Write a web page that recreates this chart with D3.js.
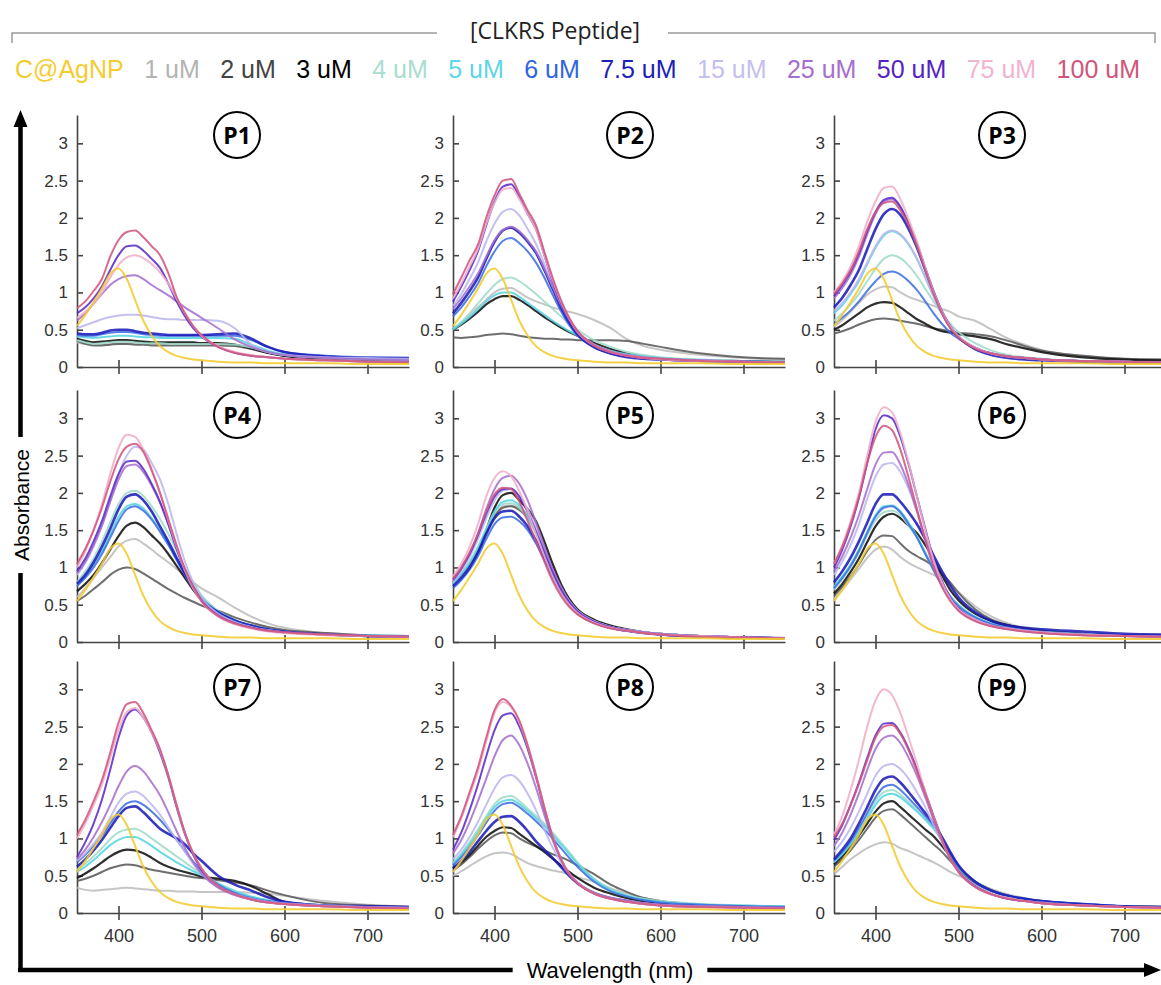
<!DOCTYPE html>
<html>
<head>
<meta charset="utf-8">
<script src="https://cdn.jsdelivr.net/npm/d3@7"></script>
<style>
  body { margin: 0; background: #fff; }
  svg { display: block; }
</style>
</head>
<body>
<div id="chart"></div>
<script>
// wavelength grid (nm) shared by every spectrum
const wavelengths = [350, 360, 370, 380, 390, 400, 410, 420, 430, 440, 450, 460, 470, 480, 490, 500, 520, 540, 560, 580, 600, 650, 700, 750];

const seriesNames = ['C@AgNP', '1 uM', '2 uM', '3 uM', '4 uM', '5 uM', '6 uM', '7.5 uM', '15 uM', '25 uM', '50 uM', '75 uM', '100 uM'];
const lineColors = ['#f3cb2c', '#bdbdbd', '#5a5a5a', '#111111', '#9fdccb', '#57d3e3', '#3d6fe3', '#1c1cb8', '#bcb7ee', '#a66fcf', '#5b2ec7', '#f0aecb', '#d2567d'];
const legendColors = ['#f5cc2f', '#b3b3b3', '#444444', '#000000', '#a8ddcf', '#5dd6e6', '#2f66e0', '#1e1eb8', '#c3bff0', '#a66fcf', '#5523c3', '#f2b3d0', '#d0557a'];
const panelNames = ['P1', 'P2', 'P3', 'P4', 'P5', 'P6', 'P7', 'P8', 'P9'];

// bare silver nanoparticle spectrum, same in every panel
const agnp = [0.55, 0.70, 0.87, 1.05, 1.25, 1.32, 1.18, 0.90, 0.62, 0.42, 0.28, 0.20, 0.15, 0.12, 0.10, 0.09, 0.07, 0.06, 0.06, 0.05, 0.05, 0.05, 0.04, 0.04];

// each panel: 1, 2, 3, 4, 5, 6, 7.5, 15, 25, 50, 75, 100 uM
const p1 = [
  [0.33, 0.31, 0.30, 0.30, 0.31, 0.32, 0.32, 0.32, 0.31, 0.31, 0.31, 0.31, 0.31, 0.31, 0.31, 0.31, 0.30, 0.29, 0.25, 0.20, 0.16, 0.12, 0.10, 0.09],
  [0.35, 0.31, 0.29, 0.29, 0.30, 0.31, 0.31, 0.30, 0.30, 0.29, 0.29, 0.29, 0.29, 0.29, 0.29, 0.29, 0.29, 0.28, 0.24, 0.19, 0.15, 0.11, 0.09, 0.08],
  [0.38, 0.35, 0.33, 0.34, 0.35, 0.36, 0.36, 0.35, 0.34, 0.33, 0.33, 0.33, 0.33, 0.33, 0.33, 0.32, 0.32, 0.30, 0.25, 0.19, 0.15, 0.11, 0.09, 0.08],
  [0.36, 0.33, 0.31, 0.32, 0.33, 0.34, 0.34, 0.33, 0.32, 0.32, 0.32, 0.31, 0.31, 0.31, 0.31, 0.31, 0.31, 0.30, 0.26, 0.20, 0.16, 0.12, 0.10, 0.09],
  [0.41, 0.40, 0.39, 0.40, 0.41, 0.42, 0.42, 0.41, 0.40, 0.40, 0.39, 0.39, 0.39, 0.39, 0.39, 0.39, 0.39, 0.38, 0.30, 0.22, 0.17, 0.13, 0.11, 0.10],
  [0.43, 0.42, 0.42, 0.44, 0.46, 0.47, 0.47, 0.46, 0.44, 0.43, 0.42, 0.42, 0.42, 0.42, 0.42, 0.42, 0.42, 0.42, 0.36, 0.27, 0.20, 0.15, 0.13, 0.12],
  [0.45, 0.44, 0.44, 0.46, 0.49, 0.50, 0.50, 0.48, 0.46, 0.45, 0.44, 0.43, 0.43, 0.43, 0.43, 0.43, 0.44, 0.45, 0.38, 0.27, 0.20, 0.14, 0.12, 0.12],
  [0.52, 0.56, 0.60, 0.64, 0.67, 0.69, 0.70, 0.70, 0.69, 0.67, 0.65, 0.64, 0.64, 0.63, 0.63, 0.63, 0.62, 0.52, 0.30, 0.20, 0.16, 0.13, 0.12, 0.11],
  [0.62, 0.72, 0.85, 0.98, 1.10, 1.18, 1.22, 1.23, 1.18, 1.10, 1.03, 0.96, 0.88, 0.80, 0.73, 0.66, 0.52, 0.37, 0.27, 0.20, 0.16, 0.12, 0.10, 0.09],
  [0.72, 0.80, 0.92, 1.08, 1.30, 1.50, 1.62, 1.63, 1.56, 1.45, 1.33, 1.12, 0.88, 0.68, 0.52, 0.41, 0.27, 0.19, 0.15, 0.13, 0.11, 0.09, 0.07, 0.06],
  [0.66, 0.74, 0.85, 1.00, 1.20, 1.37, 1.47, 1.50, 1.46, 1.38, 1.27, 1.12, 0.92, 0.72, 0.55, 0.42, 0.28, 0.20, 0.16, 0.13, 0.11, 0.09, 0.07, 0.06],
  [0.79, 0.88, 1.02, 1.18, 1.48, 1.70, 1.81, 1.83, 1.74, 1.62, 1.50, 1.26, 0.94, 0.72, 0.55, 0.43, 0.27, 0.19, 0.15, 0.13, 0.11, 0.09, 0.07, 0.06]
];
const p2 = [
  [0.50, 0.60, 0.70, 0.80, 0.90, 1.00, 1.05, 1.06, 1.00, 0.93, 0.88, 0.84, 0.80, 0.77, 0.74, 0.71, 0.63, 0.52, 0.37, 0.28, 0.23, 0.16, 0.12, 0.10],
  [0.40, 0.39, 0.40, 0.41, 0.43, 0.44, 0.45, 0.44, 0.42, 0.40, 0.39, 0.38, 0.38, 0.37, 0.37, 0.36, 0.36, 0.36, 0.35, 0.31, 0.27, 0.18, 0.13, 0.11],
  [0.50, 0.57, 0.65, 0.74, 0.84, 0.91, 0.95, 0.95, 0.90, 0.83, 0.75, 0.67, 0.60, 0.53, 0.47, 0.42, 0.32, 0.24, 0.18, 0.14, 0.12, 0.09, 0.08, 0.07],
  [0.52, 0.60, 0.72, 0.85, 0.98, 1.10, 1.18, 1.20, 1.15, 1.07, 0.98, 0.88, 0.78, 0.68, 0.58, 0.50, 0.36, 0.27, 0.20, 0.16, 0.13, 0.10, 0.08, 0.07],
  [0.50, 0.58, 0.67, 0.77, 0.88, 0.96, 1.00, 1.00, 0.94, 0.86, 0.78, 0.70, 0.62, 0.55, 0.48, 0.42, 0.30, 0.22, 0.17, 0.14, 0.12, 0.09, 0.08, 0.07],
  [0.68, 0.80, 0.95, 1.12, 1.35, 1.55, 1.69, 1.73, 1.66, 1.55, 1.40, 1.20, 0.97, 0.75, 0.56, 0.42, 0.26, 0.18, 0.14, 0.12, 0.10, 0.08, 0.07, 0.06],
  [0.72, 0.86, 1.02, 1.20, 1.45, 1.68, 1.83, 1.87, 1.80, 1.68, 1.53, 1.30, 1.05, 0.80, 0.60, 0.44, 0.27, 0.18, 0.13, 0.11, 0.10, 0.08, 0.07, 0.06],
  [0.82, 0.98, 1.18, 1.40, 1.68, 1.92, 2.08, 2.12, 2.03, 1.85, 1.65, 1.38, 1.10, 0.85, 0.64, 0.48, 0.30, 0.21, 0.16, 0.13, 0.11, 0.09, 0.07, 0.06],
  [0.78, 0.92, 1.08, 1.25, 1.48, 1.70, 1.84, 1.88, 1.82, 1.70, 1.55, 1.32, 1.08, 0.84, 0.64, 0.48, 0.30, 0.21, 0.16, 0.13, 0.11, 0.09, 0.07, 0.06],
  [0.88, 1.08, 1.30, 1.55, 1.90, 2.22, 2.42, 2.45, 2.28, 2.05, 1.85, 1.50, 1.15, 0.86, 0.63, 0.46, 0.28, 0.19, 0.14, 0.12, 0.10, 0.08, 0.07, 0.06],
  [0.92, 1.12, 1.35, 1.58, 1.92, 2.20, 2.38, 2.40, 2.25, 2.05, 1.85, 1.50, 1.17, 0.88, 0.65, 0.47, 0.29, 0.20, 0.15, 0.12, 0.10, 0.08, 0.07, 0.06],
  [0.98, 1.20, 1.43, 1.64, 2.00, 2.30, 2.50, 2.52, 2.32, 2.10, 1.90, 1.55, 1.20, 0.90, 0.66, 0.48, 0.29, 0.20, 0.15, 0.12, 0.11, 0.08, 0.07, 0.06]
];
const p3 = [
  [0.54, 0.63, 0.74, 0.86, 0.97, 1.04, 1.08, 1.07, 1.00, 0.94, 0.90, 0.86, 0.82, 0.78, 0.74, 0.68, 0.62, 0.50, 0.38, 0.30, 0.23, 0.15, 0.11, 0.10],
  [0.45, 0.48, 0.52, 0.57, 0.61, 0.64, 0.65, 0.64, 0.62, 0.60, 0.58, 0.55, 0.52, 0.50, 0.48, 0.46, 0.44, 0.41, 0.35, 0.28, 0.22, 0.15, 0.11, 0.10],
  [0.50, 0.56, 0.64, 0.72, 0.80, 0.85, 0.87, 0.86, 0.80, 0.72, 0.64, 0.58, 0.52, 0.48, 0.46, 0.44, 0.41, 0.37, 0.30, 0.25, 0.20, 0.13, 0.10, 0.09],
  [0.62, 0.72, 0.84, 0.98, 1.15, 1.32, 1.45, 1.50, 1.46, 1.36, 1.22, 1.05, 0.88, 0.72, 0.58, 0.47, 0.32, 0.22, 0.16, 0.13, 0.11, 0.08, 0.07, 0.06],
  [0.72, 0.83, 0.98, 1.15, 1.38, 1.60, 1.76, 1.82, 1.77, 1.64, 1.45, 1.20, 0.95, 0.72, 0.54, 0.41, 0.26, 0.18, 0.14, 0.12, 0.10, 0.08, 0.07, 0.06],
  [0.58, 0.66, 0.76, 0.88, 1.02, 1.15, 1.25, 1.28, 1.24, 1.15, 1.03, 0.88, 0.72, 0.58, 0.46, 0.38, 0.26, 0.18, 0.14, 0.12, 0.10, 0.08, 0.07, 0.06],
  [0.80, 0.93, 1.10, 1.30, 1.58, 1.85, 2.05, 2.12, 2.04, 1.85, 1.60, 1.30, 1.00, 0.74, 0.54, 0.40, 0.24, 0.16, 0.12, 0.10, 0.09, 0.07, 0.06, 0.06],
  [0.75, 0.86, 1.00, 1.18, 1.40, 1.62, 1.78, 1.83, 1.78, 1.65, 1.45, 1.20, 0.95, 0.72, 0.54, 0.41, 0.26, 0.18, 0.14, 0.12, 0.10, 0.08, 0.07, 0.06],
  [0.92, 1.06, 1.24, 1.48, 1.78, 2.05, 2.22, 2.25, 2.14, 1.92, 1.66, 1.33, 1.02, 0.75, 0.55, 0.41, 0.26, 0.18, 0.14, 0.12, 0.10, 0.08, 0.07, 0.06],
  [0.95, 1.10, 1.28, 1.52, 1.82, 2.08, 2.24, 2.27, 2.15, 1.92, 1.65, 1.32, 1.00, 0.73, 0.53, 0.40, 0.25, 0.18, 0.14, 0.12, 0.10, 0.08, 0.07, 0.06],
  [1.00, 1.15, 1.35, 1.62, 1.95, 2.22, 2.40, 2.42, 2.25, 1.98, 1.68, 1.33, 1.00, 0.74, 0.54, 0.41, 0.26, 0.18, 0.14, 0.12, 0.10, 0.08, 0.07, 0.06],
  [0.98, 1.12, 1.30, 1.55, 1.85, 2.08, 2.20, 2.22, 2.10, 1.90, 1.62, 1.30, 0.98, 0.72, 0.52, 0.40, 0.25, 0.18, 0.14, 0.12, 0.10, 0.08, 0.07, 0.06]
];
const p4 = [
  [0.60, 0.72, 0.86, 1.00, 1.14, 1.28, 1.36, 1.38, 1.32, 1.24, 1.15, 1.07, 0.98, 0.89, 0.80, 0.72, 0.60, 0.46, 0.34, 0.25, 0.19, 0.12, 0.09, 0.08],
  [0.55, 0.62, 0.71, 0.80, 0.90, 0.97, 1.00, 0.98, 0.92, 0.85, 0.78, 0.71, 0.65, 0.59, 0.54, 0.49, 0.42, 0.33, 0.26, 0.20, 0.16, 0.12, 0.09, 0.08],
  [0.68, 0.78, 0.90, 1.06, 1.24, 1.42, 1.56, 1.60, 1.54, 1.43, 1.32, 1.18, 1.02, 0.86, 0.70, 0.56, 0.38, 0.28, 0.22, 0.17, 0.14, 0.10, 0.08, 0.07],
  [0.80, 0.95, 1.12, 1.35, 1.60, 1.85, 2.00, 2.03, 1.96, 1.82, 1.65, 1.45, 1.22, 1.00, 0.80, 0.63, 0.42, 0.30, 0.22, 0.17, 0.14, 0.10, 0.09, 0.08],
  [0.76, 0.88, 1.04, 1.22, 1.45, 1.68, 1.82, 1.85, 1.79, 1.66, 1.50, 1.32, 1.12, 0.93, 0.75, 0.60, 0.41, 0.29, 0.22, 0.17, 0.14, 0.10, 0.09, 0.08],
  [0.75, 0.86, 1.00, 1.18, 1.40, 1.62, 1.78, 1.82, 1.76, 1.64, 1.48, 1.30, 1.10, 0.90, 0.72, 0.57, 0.39, 0.28, 0.21, 0.16, 0.13, 0.10, 0.08, 0.07],
  [0.78, 0.90, 1.07, 1.28, 1.52, 1.78, 1.95, 1.98, 1.90, 1.75, 1.55, 1.35, 1.13, 0.92, 0.74, 0.58, 0.40, 0.29, 0.22, 0.17, 0.14, 0.10, 0.08, 0.07],
  [0.90, 1.06, 1.28, 1.56, 1.90, 2.25, 2.50, 2.62, 2.58, 2.40, 2.18, 1.85, 1.45, 1.08, 0.80, 0.60, 0.38, 0.27, 0.20, 0.16, 0.13, 0.10, 0.08, 0.07],
  [0.92, 1.08, 1.30, 1.56, 1.88, 2.18, 2.36, 2.38, 2.28, 2.10, 1.87, 1.58, 1.26, 0.97, 0.74, 0.56, 0.36, 0.25, 0.19, 0.15, 0.13, 0.10, 0.08, 0.07],
  [0.95, 1.12, 1.35, 1.62, 1.95, 2.25, 2.42, 2.43, 2.32, 2.12, 1.88, 1.58, 1.25, 0.96, 0.73, 0.55, 0.35, 0.25, 0.19, 0.15, 0.13, 0.10, 0.08, 0.07],
  [1.00, 1.22, 1.50, 1.85, 2.25, 2.60, 2.78, 2.75, 2.58, 2.32, 2.00, 1.63, 1.28, 0.96, 0.72, 0.54, 0.34, 0.24, 0.18, 0.14, 0.12, 0.09, 0.08, 0.07],
  [1.05, 1.25, 1.50, 1.80, 2.15, 2.45, 2.62, 2.66, 2.55, 2.30, 2.00, 1.65, 1.30, 0.98, 0.74, 0.55, 0.35, 0.25, 0.19, 0.15, 0.13, 0.10, 0.08, 0.07]
];
const p5 = [
  [0.80, 0.92, 1.06, 1.24, 1.48, 1.70, 1.82, 1.83, 1.80, 1.70, 1.52, 1.28, 1.00, 0.76, 0.57, 0.43, 0.29, 0.21, 0.16, 0.13, 0.11, 0.08, 0.06, 0.05],
  [0.78, 0.90, 1.04, 1.22, 1.46, 1.68, 1.80, 1.82, 1.77, 1.66, 1.48, 1.24, 0.98, 0.74, 0.56, 0.42, 0.28, 0.21, 0.16, 0.13, 0.11, 0.08, 0.06, 0.05],
  [0.80, 0.90, 1.04, 1.22, 1.50, 1.80, 1.97, 2.00, 1.90, 1.78, 1.62, 1.35, 1.05, 0.78, 0.58, 0.44, 0.30, 0.22, 0.17, 0.13, 0.11, 0.08, 0.06, 0.05],
  [0.79, 0.92, 1.08, 1.28, 1.52, 1.74, 1.85, 1.86, 1.80, 1.66, 1.45, 1.20, 0.94, 0.72, 0.55, 0.42, 0.28, 0.20, 0.16, 0.13, 0.11, 0.08, 0.06, 0.05],
  [0.78, 0.90, 1.05, 1.25, 1.50, 1.75, 1.88, 1.90, 1.83, 1.68, 1.46, 1.20, 0.94, 0.71, 0.54, 0.42, 0.28, 0.20, 0.16, 0.13, 0.11, 0.08, 0.06, 0.05],
  [0.72, 0.83, 0.97, 1.15, 1.38, 1.58, 1.67, 1.68, 1.62, 1.50, 1.32, 1.10, 0.87, 0.66, 0.50, 0.39, 0.26, 0.19, 0.15, 0.12, 0.10, 0.07, 0.06, 0.05],
  [0.75, 0.86, 1.00, 1.20, 1.45, 1.66, 1.75, 1.76, 1.68, 1.55, 1.36, 1.12, 0.88, 0.67, 0.50, 0.39, 0.26, 0.19, 0.15, 0.12, 0.10, 0.07, 0.06, 0.05],
  [0.80, 0.95, 1.14, 1.38, 1.66, 1.90, 2.03, 2.05, 1.96, 1.78, 1.53, 1.25, 0.97, 0.73, 0.55, 0.42, 0.28, 0.20, 0.16, 0.13, 0.11, 0.08, 0.06, 0.05],
  [0.82, 0.98, 1.18, 1.45, 1.78, 2.05, 2.20, 2.23, 2.12, 1.90, 1.60, 1.28, 0.98, 0.74, 0.55, 0.42, 0.28, 0.20, 0.16, 0.13, 0.11, 0.08, 0.06, 0.05],
  [0.84, 0.99, 1.18, 1.43, 1.72, 1.95, 2.05, 2.06, 1.95, 1.74, 1.48, 1.20, 0.93, 0.70, 0.53, 0.41, 0.27, 0.20, 0.15, 0.12, 0.10, 0.08, 0.06, 0.05],
  [0.88, 1.05, 1.28, 1.58, 1.95, 2.20, 2.29, 2.22, 2.02, 1.75, 1.45, 1.15, 0.88, 0.66, 0.50, 0.39, 0.26, 0.19, 0.15, 0.12, 0.10, 0.08, 0.06, 0.05],
  [0.85, 1.00, 1.20, 1.45, 1.75, 1.98, 2.07, 2.05, 1.88, 1.62, 1.35, 1.08, 0.82, 0.62, 0.47, 0.37, 0.25, 0.18, 0.15, 0.12, 0.10, 0.07, 0.06, 0.05]
];
const p6 = [
  [0.58, 0.70, 0.84, 0.98, 1.13, 1.24, 1.28, 1.24, 1.14, 1.06, 1.00, 0.95, 0.90, 0.84, 0.77, 0.67, 0.48, 0.34, 0.25, 0.19, 0.16, 0.11, 0.09, 0.08],
  [0.62, 0.74, 0.88, 1.04, 1.22, 1.37, 1.43, 1.42, 1.32, 1.22, 1.15, 1.09, 1.02, 0.92, 0.80, 0.66, 0.44, 0.30, 0.23, 0.18, 0.15, 0.11, 0.09, 0.08],
  [0.65, 0.78, 0.94, 1.12, 1.34, 1.55, 1.68, 1.72, 1.66, 1.56, 1.46, 1.30, 1.12, 0.90, 0.70, 0.56, 0.38, 0.28, 0.22, 0.18, 0.15, 0.11, 0.09, 0.08],
  [0.70, 0.84, 1.00, 1.20, 1.43, 1.63, 1.74, 1.76, 1.70, 1.56, 1.40, 1.18, 0.97, 0.77, 0.61, 0.49, 0.33, 0.24, 0.19, 0.16, 0.13, 0.10, 0.09, 0.08],
  [0.74, 0.88, 1.04, 1.24, 1.48, 1.70, 1.82, 1.83, 1.75, 1.60, 1.42, 1.20, 0.98, 0.78, 0.62, 0.50, 0.34, 0.25, 0.20, 0.16, 0.14, 0.11, 0.09, 0.08],
  [0.72, 0.86, 1.02, 1.22, 1.46, 1.68, 1.80, 1.82, 1.74, 1.58, 1.40, 1.18, 0.96, 0.76, 0.60, 0.48, 0.33, 0.24, 0.19, 0.16, 0.13, 0.10, 0.09, 0.08],
  [0.80, 0.95, 1.13, 1.35, 1.60, 1.85, 1.98, 1.98, 1.88, 1.74, 1.58, 1.38, 1.16, 0.95, 0.76, 0.60, 0.40, 0.28, 0.22, 0.19, 0.17, 0.14, 0.11, 0.10],
  [0.90, 1.08, 1.30, 1.58, 1.92, 2.22, 2.38, 2.40, 2.28, 2.05, 1.75, 1.40, 1.07, 0.80, 0.60, 0.45, 0.30, 0.22, 0.18, 0.15, 0.13, 0.10, 0.08, 0.07],
  [0.95, 1.15, 1.40, 1.70, 2.05, 2.38, 2.54, 2.55, 2.38, 2.10, 1.75, 1.38, 1.04, 0.77, 0.57, 0.43, 0.29, 0.21, 0.17, 0.14, 0.12, 0.09, 0.08, 0.07],
  [1.00, 1.24, 1.55, 1.93, 2.40, 2.85, 3.04, 3.00, 2.75, 2.38, 1.95, 1.52, 1.12, 0.82, 0.60, 0.45, 0.30, 0.22, 0.18, 0.15, 0.13, 0.10, 0.08, 0.07],
  [1.05, 1.30, 1.62, 2.00, 2.50, 2.95, 3.15, 3.08, 2.80, 2.40, 1.95, 1.50, 1.10, 0.80, 0.58, 0.44, 0.30, 0.22, 0.18, 0.15, 0.13, 0.10, 0.08, 0.07],
  [1.05, 1.28, 1.58, 1.95, 2.40, 2.75, 2.90, 2.84, 2.58, 2.20, 1.78, 1.36, 1.00, 0.74, 0.55, 0.42, 0.28, 0.21, 0.17, 0.14, 0.12, 0.09, 0.08, 0.07]
];
const p7 = [
  [0.34, 0.31, 0.30, 0.31, 0.32, 0.33, 0.34, 0.33, 0.32, 0.31, 0.30, 0.30, 0.29, 0.29, 0.29, 0.28, 0.28, 0.28, 0.27, 0.26, 0.23, 0.16, 0.11, 0.09],
  [0.43, 0.46, 0.50, 0.55, 0.60, 0.63, 0.65, 0.64, 0.61, 0.58, 0.56, 0.54, 0.52, 0.50, 0.48, 0.47, 0.44, 0.41, 0.37, 0.30, 0.24, 0.13, 0.10, 0.08],
  [0.47, 0.53, 0.60, 0.68, 0.76, 0.82, 0.85, 0.84, 0.80, 0.74, 0.67, 0.62, 0.58, 0.55, 0.52, 0.49, 0.46, 0.43, 0.36, 0.25, 0.15, 0.10, 0.08, 0.07],
  [0.58, 0.66, 0.76, 0.87, 0.99, 1.08, 1.12, 1.13, 1.08, 1.00, 0.92, 0.84, 0.76, 0.68, 0.60, 0.53, 0.40, 0.30, 0.22, 0.17, 0.14, 0.10, 0.08, 0.07],
  [0.55, 0.62, 0.71, 0.81, 0.91, 0.98, 1.02, 1.02, 0.97, 0.90, 0.82, 0.75, 0.68, 0.62, 0.56, 0.51, 0.39, 0.29, 0.22, 0.17, 0.14, 0.10, 0.08, 0.07],
  [0.68, 0.78, 0.90, 1.04, 1.20, 1.36, 1.47, 1.50, 1.45, 1.36, 1.25, 1.12, 0.98, 0.83, 0.69, 0.56, 0.38, 0.27, 0.20, 0.16, 0.13, 0.10, 0.08, 0.07],
  [0.62, 0.72, 0.84, 0.98, 1.14, 1.30, 1.41, 1.43, 1.35, 1.24, 1.13, 1.06, 1.00, 0.92, 0.80, 0.70, 0.50, 0.38, 0.30, 0.21, 0.15, 0.10, 0.09, 0.08],
  [0.70, 0.80, 0.93, 1.08, 1.28, 1.48, 1.60, 1.63, 1.57, 1.45, 1.32, 1.15, 0.98, 0.82, 0.66, 0.53, 0.35, 0.25, 0.19, 0.15, 0.13, 0.10, 0.08, 0.07],
  [0.72, 0.85, 1.02, 1.22, 1.45, 1.70, 1.90, 1.97, 1.90, 1.75, 1.58, 1.35, 1.10, 0.87, 0.68, 0.53, 0.34, 0.24, 0.18, 0.15, 0.12, 0.09, 0.08, 0.07],
  [0.75, 0.95, 1.20, 1.52, 1.92, 2.35, 2.65, 2.73, 2.62, 2.42, 2.15, 1.82, 1.42, 1.06, 0.78, 0.58, 0.36, 0.25, 0.18, 0.14, 0.12, 0.09, 0.07, 0.06],
  [1.00, 1.20, 1.45, 1.72, 2.08, 2.45, 2.70, 2.75, 2.62, 2.42, 2.18, 1.85, 1.45, 1.08, 0.80, 0.60, 0.36, 0.25, 0.18, 0.14, 0.12, 0.09, 0.07, 0.06],
  [1.05, 1.25, 1.50, 1.78, 2.15, 2.55, 2.80, 2.83, 2.68, 2.45, 2.20, 1.85, 1.45, 1.08, 0.80, 0.60, 0.36, 0.25, 0.18, 0.14, 0.12, 0.09, 0.07, 0.06]
];
const p8 = [
  [0.50, 0.56, 0.63, 0.70, 0.76, 0.80, 0.81, 0.79, 0.73, 0.67, 0.63, 0.60, 0.57, 0.55, 0.52, 0.48, 0.42, 0.33, 0.26, 0.20, 0.16, 0.11, 0.09, 0.08],
  [0.57, 0.65, 0.75, 0.86, 0.96, 1.04, 1.08, 1.07, 1.00, 0.94, 0.89, 0.84, 0.79, 0.75, 0.70, 0.64, 0.52, 0.38, 0.28, 0.20, 0.16, 0.11, 0.09, 0.08],
  [0.60, 0.68, 0.78, 0.90, 1.02, 1.10, 1.15, 1.14, 1.06, 0.98, 0.90, 0.82, 0.73, 0.64, 0.55, 0.47, 0.34, 0.26, 0.20, 0.16, 0.13, 0.10, 0.08, 0.07],
  [0.68, 0.80, 0.95, 1.12, 1.30, 1.46, 1.55, 1.57, 1.50, 1.40, 1.30, 1.20, 1.08, 0.95, 0.82, 0.68, 0.46, 0.32, 0.24, 0.19, 0.16, 0.12, 0.10, 0.09],
  [0.66, 0.78, 0.92, 1.08, 1.26, 1.42, 1.50, 1.52, 1.46, 1.37, 1.27, 1.17, 1.05, 0.92, 0.79, 0.66, 0.45, 0.31, 0.23, 0.18, 0.15, 0.11, 0.10, 0.09],
  [0.64, 0.75, 0.88, 1.04, 1.21, 1.37, 1.46, 1.48, 1.42, 1.33, 1.23, 1.12, 1.00, 0.87, 0.74, 0.62, 0.42, 0.29, 0.22, 0.17, 0.14, 0.11, 0.09, 0.08],
  [0.60, 0.70, 0.82, 0.96, 1.10, 1.22, 1.29, 1.30, 1.22, 1.10, 0.96, 0.85, 0.74, 0.62, 0.50, 0.40, 0.27, 0.20, 0.16, 0.13, 0.11, 0.09, 0.08, 0.07],
  [0.72, 0.85, 1.02, 1.22, 1.45, 1.67, 1.82, 1.85, 1.77, 1.60, 1.38, 1.12, 0.88, 0.68, 0.52, 0.41, 0.27, 0.20, 0.16, 0.13, 0.11, 0.09, 0.08, 0.07],
  [0.80, 0.98, 1.22, 1.50, 1.80, 2.10, 2.32, 2.38, 2.25, 2.00, 1.68, 1.32, 0.98, 0.72, 0.53, 0.41, 0.27, 0.20, 0.16, 0.13, 0.11, 0.09, 0.08, 0.07],
  [0.85, 1.08, 1.38, 1.72, 2.10, 2.45, 2.65, 2.68, 2.50, 2.20, 1.82, 1.40, 1.02, 0.73, 0.53, 0.41, 0.26, 0.19, 0.15, 0.12, 0.10, 0.08, 0.07, 0.06],
  [1.02, 1.27, 1.58, 1.90, 2.30, 2.68, 2.83, 2.76, 2.56, 2.24, 1.85, 1.42, 1.03, 0.73, 0.53, 0.41, 0.26, 0.19, 0.15, 0.12, 0.10, 0.08, 0.07, 0.06],
  [1.05, 1.30, 1.62, 1.95, 2.35, 2.72, 2.87, 2.78, 2.58, 2.25, 1.85, 1.42, 1.02, 0.72, 0.52, 0.40, 0.26, 0.19, 0.15, 0.12, 0.10, 0.08, 0.07, 0.06]
];
const p9 = [
  [0.52, 0.62, 0.72, 0.80, 0.87, 0.92, 0.95, 0.93, 0.87, 0.83, 0.78, 0.73, 0.68, 0.62, 0.55, 0.50, 0.42, 0.32, 0.25, 0.20, 0.16, 0.11, 0.09, 0.08],
  [0.62, 0.72, 0.84, 0.98, 1.13, 1.28, 1.37, 1.39, 1.32, 1.22, 1.12, 1.02, 0.92, 0.82, 0.70, 0.58, 0.40, 0.29, 0.22, 0.18, 0.15, 0.11, 0.09, 0.08],
  [0.65, 0.76, 0.89, 1.04, 1.20, 1.36, 1.47, 1.50, 1.42, 1.32, 1.22, 1.12, 1.03, 0.90, 0.76, 0.62, 0.42, 0.30, 0.23, 0.18, 0.15, 0.11, 0.09, 0.08],
  [0.69, 0.80, 0.94, 1.11, 1.30, 1.50, 1.62, 1.65, 1.59, 1.49, 1.38, 1.27, 1.15, 0.98, 0.80, 0.63, 0.42, 0.30, 0.23, 0.19, 0.16, 0.12, 0.09, 0.08],
  [0.68, 0.79, 0.92, 1.08, 1.26, 1.45, 1.57, 1.60, 1.55, 1.46, 1.36, 1.25, 1.13, 0.97, 0.79, 0.62, 0.42, 0.30, 0.23, 0.19, 0.16, 0.12, 0.09, 0.08],
  [0.70, 0.82, 0.96, 1.14, 1.34, 1.55, 1.69, 1.72, 1.65, 1.54, 1.42, 1.30, 1.17, 1.00, 0.80, 0.63, 0.42, 0.30, 0.23, 0.19, 0.16, 0.12, 0.09, 0.08],
  [0.72, 0.85, 1.00, 1.20, 1.42, 1.65, 1.80, 1.83, 1.75, 1.62, 1.48, 1.34, 1.20, 1.02, 0.82, 0.64, 0.42, 0.30, 0.23, 0.19, 0.16, 0.12, 0.09, 0.08],
  [0.82, 0.96, 1.14, 1.36, 1.60, 1.84, 1.97, 2.00, 1.93, 1.80, 1.62, 1.42, 1.18, 0.95, 0.74, 0.57, 0.37, 0.26, 0.20, 0.16, 0.14, 0.10, 0.08, 0.07],
  [0.90, 1.08, 1.32, 1.60, 1.92, 2.20, 2.35, 2.38, 2.28, 2.08, 1.84, 1.55, 1.25, 0.97, 0.73, 0.55, 0.35, 0.25, 0.19, 0.16, 0.13, 0.10, 0.08, 0.07],
  [0.98, 1.18, 1.45, 1.75, 2.08, 2.38, 2.54, 2.55, 2.42, 2.20, 1.93, 1.62, 1.30, 1.00, 0.75, 0.56, 0.36, 0.25, 0.19, 0.16, 0.13, 0.10, 0.08, 0.07],
  [1.05, 1.30, 1.65, 2.05, 2.50, 2.85, 3.00, 2.92, 2.68, 2.35, 2.00, 1.62, 1.28, 0.98, 0.73, 0.55, 0.35, 0.25, 0.20, 0.16, 0.13, 0.10, 0.08, 0.07],
  [1.02, 1.20, 1.45, 1.73, 2.05, 2.35, 2.50, 2.52, 2.40, 2.18, 1.90, 1.60, 1.27, 0.98, 0.73, 0.55, 0.35, 0.25, 0.19, 0.16, 0.13, 0.10, 0.08, 0.07]
];
const panels = [p1, p2, p3, p4, p5, p6, p7, p8, p9];

const yTicks = [0, 0.5, 1, 1.5, 2, 2.5, 3];
const xTicks = [400, 500, 600, 700];

const totalWidth = 1161;
const totalHeight = 985;

// panel layout
const colLeft = [77, 453, 834];
const rowBase = [367, 642, 913];
const labelX = [237, 630, 1002];
const labelY = [135, 415, 687];
const plotWidth = 332;
const plotHeight = 252;

const sans = "'Liberation Sans', Arial, Helvetica, sans-serif";

const svg = d3.select('#chart')
    .append('svg')
    .attr('width', totalWidth)
    .attr('height', totalHeight);

// legend title with bracket
svg.append('path')
    .attr('d', 'M12,43V33H437M668,33H1155V43')
    .attr('fill', 'none')
    .attr('stroke', '#9a9a9a')
    .attr('stroke-width', 1.5);

svg.append('text')
    .attr('x', 555)
    .attr('y', 39)
    .attr('text-anchor', 'middle')
    .style('font-family', "'Open Sans', sans-serif")
    .style('font-size', '23px')
    .style('fill', '#222')
    .text('[CLKRS Peptide]');

// legend entries, spread across the full width
const legend = svg.append('g');
const legendTexts = legend.selectAll('text')
    .data(seriesNames)
    .enter()
    .append('text')
    .attr('y', 78)
    .style('font-family', sans)
    .style('font-size', '25px')
    .style('fill', (d, i) => legendColors[i])
    .text(d => d);

const widths = [];
legendTexts.each(function () { widths.push(this.getComputedTextLength()); });
const legendStart = 15, legendEnd = 1140;
const gap = (legendEnd - legendStart - d3.sum(widths)) / (widths.length - 1);
let cursor = legendStart;
legendTexts.attr('x', (d, i) => {
    const pos = cursor;
    cursor += widths[i] + gap;
    return pos;
});

// panels
panels.forEach((panel, i) => {
    const col = i % 3;
    const row = Math.floor(i / 3);

    const xScale = d3.scaleLinear()
        .domain([350, 750])
        .range([colLeft[col], colLeft[col] + plotWidth]);

    const yScale = d3.scaleLinear()
        .domain([0, 3.38])
        .range([rowBase[row], rowBase[row] - plotHeight]);

    const g = svg.append('g');

    // vertical axis, ticks point inward
    const yAxis = g.append('g')
        .attr('transform', `translate(${colLeft[col]},0)`)
        .call(d3.axisLeft(yScale)
            .tickValues(yTicks)
            .tickSizeInner(-6)
            .tickSizeOuter(0)
            .tickPadding(9)
            .tickFormat(d => d));

    // horizontal axis, ticks cross the line
    const xAxis = g.append('g')
        .attr('transform', `translate(0,${rowBase[row]})`)
        .call(d3.axisBottom(xScale)
            .tickValues(xTicks)
            .tickSizeInner(7)
            .tickSizeOuter(0)
            .tickPadding(9)
            .tickFormat(row === 2 ? d => d : () => ''));
    xAxis.selectAll('.tick line').attr('y1', -7);

    [yAxis, xAxis].forEach(ax => {
        ax.select('.domain').attr('stroke', '#444').attr('stroke-width', 1.6);
        ax.selectAll('.tick line').attr('stroke', '#444').attr('stroke-width', 1.6);
        ax.selectAll('.tick text')
            .style('font-family', sans)
            .style('fill', '#333');
    });
    yAxis.selectAll('.tick text').style('font-size', '17px');
    xAxis.selectAll('.tick text').style('font-size', '18px');

    const line = d3.line()
        .x((d, k) => xScale(wavelengths[k]))
        .y(d => yScale(d))
        .curve(d3.curveMonotoneX);

    // concentrations first, bare nanoparticles on top
    const series = panel.map((values, k) => ({ values: values, idx: k + 1 }));
    series.push({ values: agnp, idx: 0 });

    g.selectAll('path.spectrum')
        .data(series)
        .enter()
        .append('path')
        .attr('class', 'spectrum')
        .attr('d', d => line(d.values))
        .attr('fill', 'none')
        .attr('stroke', d => lineColors[d.idx])
        .attr('stroke-width', d => (d.idx === 7 ? 2.6 : d.idx === 3 ? 2.2 : 2))
        .attr('stroke-opacity', 0.88)
        .attr('stroke-linejoin', 'round');

    // panel badge
    g.append('circle')
        .attr('cx', labelX[col])
        .attr('cy', labelY[row])
        .attr('r', 23)
        .attr('fill', '#fff')
        .attr('stroke', '#000')
        .attr('stroke-width', 2);

    g.append('text')
        .attr('x', labelX[col])
        .attr('y', labelY[row])
        .attr('text-anchor', 'middle')
        .attr('dominant-baseline', 'central')
        .style('font-family', "'Open Sans', sans-serif")
        .style('font-weight', 700)
        .style('font-size', '23px')
        .text(panelNames[i]);
});

// big axis arrows
svg.append('path')
    .attr('d', 'M20.5,972V124M18,970H1147')
    .attr('fill', 'none')
    .attr('stroke', '#000')
    .attr('stroke-width', 4.5);

svg.append('path')
    .attr('d', 'M20.5,110L13.5,127H27.5Z')
    .attr('fill', '#000');

svg.append('path')
    .attr('d', 'M1161,970L1144,963V977Z')
    .attr('fill', '#000');

// axis titles over white gaps
const yTitle = svg.append('text')
    .attr('transform', 'translate(21,505) rotate(-90)')
    .attr('text-anchor', 'middle')
    .attr('dominant-baseline', 'central')
    .style('font-family', sans)
    .style('font-size', '21px')
    .text('Absorbance');

const xTitle = svg.append('text')
    .attr('x', 610)
    .attr('y', 970)
    .attr('text-anchor', 'middle')
    .attr('dominant-baseline', 'central')
    .style('font-family', sans)
    .style('font-size', '22px')
    .text('Wavelength (nm)');

const yLen = yTitle.node().getComputedTextLength();
svg.insert('rect', () => yTitle.node())
    .attr('x', 10)
    .attr('y', 505 - yLen / 2 - 12)
    .attr('width', 22)
    .attr('height', yLen + 24)
    .attr('fill', '#fff');

const xLen = xTitle.node().getComputedTextLength();
svg.insert('rect', () => xTitle.node())
    .attr('x', 610 - xLen / 2 - 14)
    .attr('y', 960)
    .attr('width', xLen + 28)
    .attr('height', 20)
    .attr('fill', '#fff');
</script>
</body>
</html>
